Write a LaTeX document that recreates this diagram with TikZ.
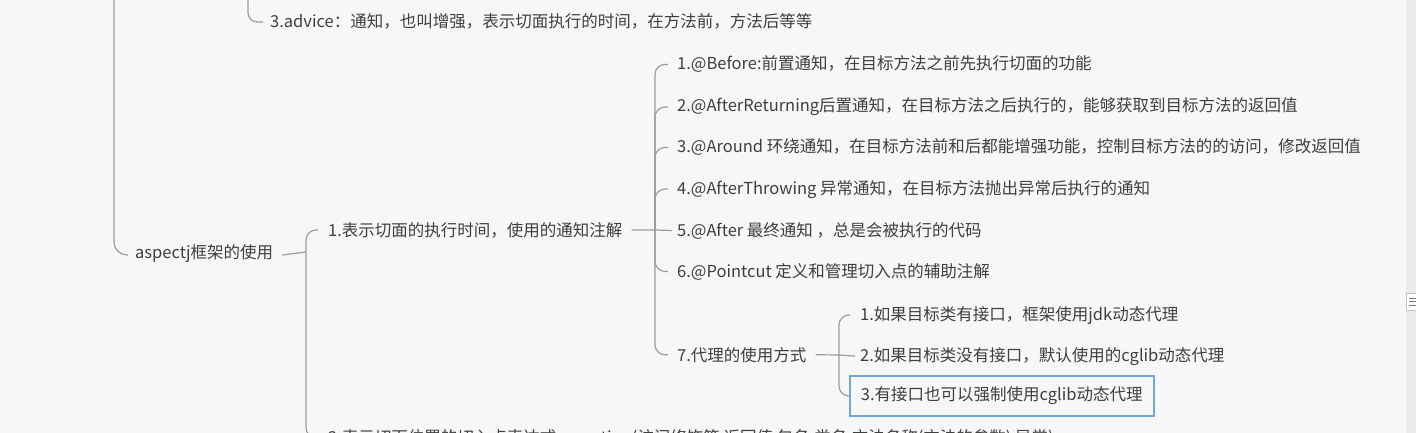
\documentclass[tikz,border=0pt]{standalone}
\usepackage{fontspec}
\setmainfont{Noto Sans CJK SC}
\definecolor{bgc}{HTML}{F7F7F7}
\definecolor{txtc}{HTML}{3F3F3F}
\definecolor{linec}{HTML}{9C9C9C}
\definecolor{boxc}{HTML}{6FA8DC}
\definecolor{stripc}{HTML}{EBEBEB}
\tikzset{
  lbl/.style={anchor=base west, inner sep=0pt, text=txtc, font=\fontsize{16.5}{20}\selectfont},
  conn/.style={draw=linec, line width=1.2pt, rounded corners=10pt},
  selbox/.style={draw=boxc, line width=1.8pt, inner xsep=11pt, minimum height=40pt, text=txtc, font=\fontsize{16.5}{20}\selectfont}
}
\begin{document}
\begin{tikzpicture}[x=1pt,y=-1pt]
\fill[bgc] (0,0) rectangle (1416,433);
\useasboundingbox (0,0) rectangle (1416,433);
\begin{scope}
\clip (0,0) rectangle (1416,433);
% right strip (scroll bar)
\fill[stripc] (1406,0) rectangle (1416,433);
\draw[draw=linec!60, line width=0.6pt, fill=white] (1406.5,293) rectangle (1418,310);
\foreach \yy in {298,301.5,305} \draw[txtc!70, line width=0.9pt] (1409,\yy) -- (1416,\yy);

% nodes
\node[lbl] (adv) at (270,28) {3.advice：通知，也叫增强，表示切面执行的时间，在方法前，方法后等等};
\node[lbl] (asp) at (135,258) {aspectj框架的使用};
\node[lbl] (n1) at (328,236) {1.表示切面的执行时间，使用的通知注解};
\node[lbl] (n2) at (328,443) {2.表示切面位置的切入点表达式execution(访问修饰符 返回值 包名.类名.方法名称(方法的参数) 异常)};
\node[lbl] (a1) at (677,70) {1.@Before:前置通知，在目标方法之前先执行切面的功能};
\node[lbl] (a2) at (677,112) {2.@AfterReturning后置通知，在目标方法之后执行的，能够获取到目标方法的返回值};
\node[lbl] (a3) at (677,153) {3.@Around 环绕通知，在目标方法前和后都能增强功能，控制目标方法的的访问，修改返回值};
\node[lbl] (a4) at (677,194) {4.@AfterThrowing 异常通知，在目标方法抛出异常后执行的通知};
\node[lbl] (a5) at (677,236) {5.@After 最终通知 ，总是会被执行的代码};
\node[lbl] (a6) at (677,277) {6.@Pointcut 定义和管理切入点的辅助注解};
\node[lbl] (a7) at (677,361) {7.代理的使用方式};
\node[lbl] (p1) at (860,320) {1.如果目标类有接口，框架使用jdk动态代理};
\node[lbl] (p2) at (860,361) {2.如果目标类没有接口，默认使用的cglib动态代理};
\node[selbox, anchor=west] (p3) at (849,396) {3.有接口也可以强制使用cglib动态代理};

% coordinates
\coordinate (top1) at (114,-5);
\coordinate (top2) at (248,-5);
\coordinate (j1) at (306,252);
\coordinate (j2) at (655,230);
\coordinate (j3) at (839,355);

% connectors
\draw[conn, rounded corners=13pt] (top1) |- ([xshift=-7pt,yshift=-2pt]asp.west);
\draw[conn, rounded corners=9pt] (top2) |- ([xshift=-7pt]adv.west);

\draw[conn] ([xshift=9pt,yshift=-2pt]asp.east) -- (j1);
\draw[conn] (j1) |- ([xshift=-10pt]n1.west);
\draw[conn] (j1) |- ([xshift=-10pt]n2.west);

\draw[conn] ([xshift=9pt]n1.east) -- (j2);
\foreach \c in {a1,a2,a3,a4,a6,a7} \draw[conn] (j2) |- ([xshift=-9pt]\c.west);
\draw[conn] (j2) -- ([xshift=-5pt]a5.west);

\draw[conn] ([xshift=9pt]a7.east) -- (j3);
\draw[conn] (j3) |- ([xshift=-10pt]p1.west);
\draw[conn] (j3) -- ([xshift=-5pt]p2.west);
\draw[conn] (j3) |- (p3.west);
\end{scope}
\end{tikzpicture}
\end{document}
